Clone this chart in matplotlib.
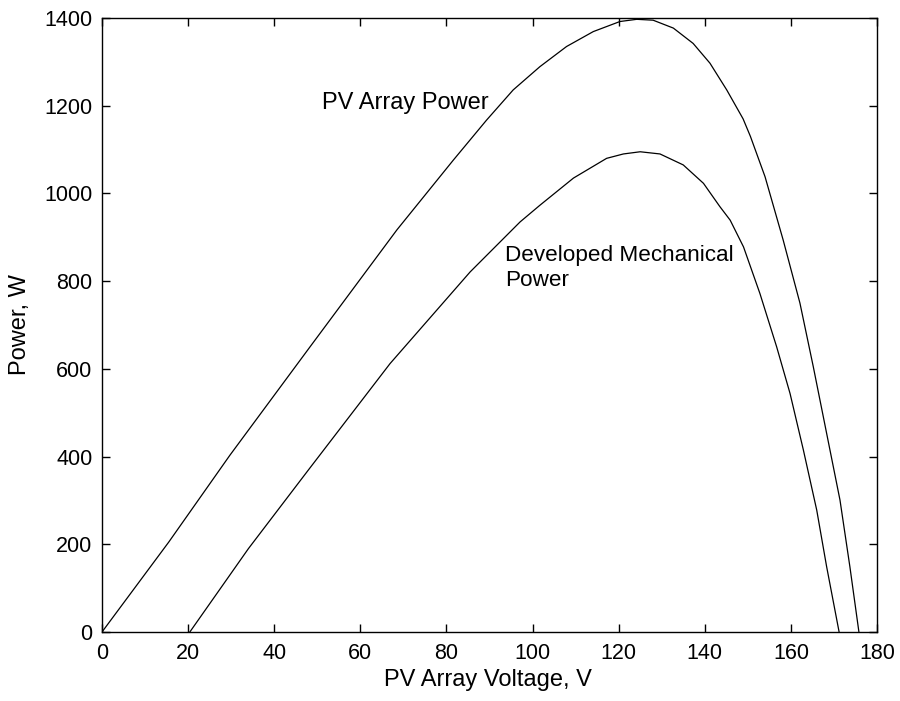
import matplotlib
matplotlib.use('Agg')
import matplotlib.pyplot as plt

# values
pv_voltage = [0, 15.5, 29.7, 48.3, 68.5, 81.6, 89.3, 95.5, 101.7, 107.9,
              114.1, 120.3, 124.2, 128.0, 132.7, 137.3, 141.2, 145.1, 148.9,
              150.6, 154.0, 158.2, 162.1, 165.2, 168.3, 171.4, 173.7, 175.8]
pv_power = [0, 205, 403, 650, 917, 1076, 1167, 1236, 1289, 1335,
            1369, 1392, 1397, 1395, 1377, 1342, 1297, 1236, 1170,
            1130, 1038, 894, 750, 605, 453, 301, 149, 0]

mech_voltage = [20.4, 34.0, 47.9, 66.9, 85.5, 97.1, 101.7, 109.5, 117.2,
                121.1, 125.0, 129.6, 135.0, 139.7, 143.5, 145.9, 149.0,
                152.8, 156.7, 159.8, 162.9, 166.0, 168.3, 171.2]
mech_power = [0, 190, 369, 612, 821, 935, 973, 1035, 1080,
              1090, 1095, 1090, 1065, 1023, 970, 939, 878,
              772, 650, 544, 415, 278, 149, 0]

x_ticks = list(range(0, 181, 20))
y_ticks = list(range(0, 1401, 200))

plt.rcParams['font.family'] = ['Liberation Sans', 'DejaVu Sans']
fs_tick = 15.5
fs_text = 17

fig = plt.figure(figsize=(9, 7.01), dpi=100)
ax = fig.add_axes([102/900, 1 - 632/701, 775/900, 614/701])

ax.plot(pv_voltage, pv_power, color='black', linewidth=0.9)
ax.plot(mech_voltage, mech_power, color='black', linewidth=0.9)

ax.set_xlim(0, 180)
ax.set_ylim(0, 1400)
ax.set_xticks(x_ticks)
ax.set_yticks(y_ticks)
ax.tick_params(direction='in', length=6, width=1, top=True, right=True,
               labelsize=fs_tick, colors='black')
ax.tick_params(axis='x', pad=8)
ax.tick_params(axis='y', pad=7)
for s in ax.spines.values():
    s.set_linewidth(1)

ax.set_xlabel('PV Array Voltage, V', fontsize=fs_text, va='center')
ax.xaxis.set_label_coords(0.498, (632 - 680) / 614)
ax.set_ylabel('Power, W', fontsize=fs_text, va='center')
ax.yaxis.set_label_coords((20 - 102) / 775, 0.5)

ax.text(322/900, 1 - 103/701, 'PV Array Power', transform=fig.transFigure,
        fontsize=fs_text, va='center', ha='left')
ax.text(505/900, 1 - 268/701, 'Developed Mechanical\nPower', transform=fig.transFigure,
        fontsize=16.2, va='center', ha='left', linespacing=1.2)

fig.savefig('out.png', dpi=100)
